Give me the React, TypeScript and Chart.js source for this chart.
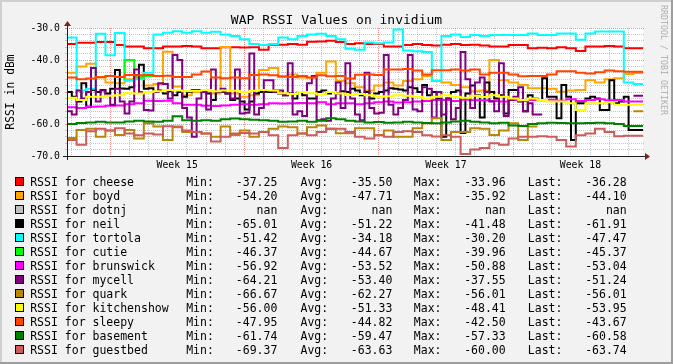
import React, { useEffect, useRef } from "react";
import { Chart, registerables } from "chart.js";

Chart.register(...registerables);

const FONT = "'DejaVu Sans Mono', monospace";

// ---- time axis (days since the left edge of the graph) ----
const halfDays = Array.from({ length: 61 }, (_, i) => i / 2);
const quarterDays = Array.from({ length: 121 }, (_, i) => i / 4);

const dayLines = Array.from({ length: 30 }, (_, k) => 0.24 + k);
const weekStarts = [2.24, 9.24, 16.24, 23.24];
const weekMids = [5.74, 12.74, 19.74, 26.74];
const weekLabels = ["Week 15", "Week 16", "Week 17", "Week 18"];

// ---- series (dBm) ----
const cheese = [
  -35.0, -35.0, -34.6, -34.6, -34.4, -34.4, -35.3, -35.8, -35.8, -36.3,
  -36.3, -35.8, -35.8, -35.6, -35.8, -36.3, -36.3, -36.0, -36.0, -36.1,
  -36.0, -36.8, -35.2, -35.2, -35.0, -35.2, -34.3, -34.2, -34.0, -34.4,
  -35.0, -34.8, -35.0, -35.0, -35.8, -35.8, -35.3, -35.0, -35.3, -35.5,
  -35.2, -35.0, -35.3, -35.2, -35.5, -35.8, -35.8, -35.3, -35.3, -36.3,
  -36.2, -36.3, -36.0, -36.3, -37.2, -35.8, -35.8, -35.6, -35.8, -36.3,
  -36.3,
];
const boyd = [
  -42.5, -44.0, -42.0, -41.2, -45.5, -47.0, -47.3, -46.0, -45.2, -48.0,
  -47.5, -37.4, -48.3, -51.0, -50.0, -49.5, -50.5, -35.9, -50.5, -51.5,
  -51.0, -43.1, -42.5, -45.0, -44.5, -45.5, -45.5, -44.0, -40.5, -46.6,
  -47.3, -48.5, -49.5, -48.0, -47.0, -48.0, -46.6, -46.0, -45.0, -46.6,
  -47.0, -47.8, -48.5, -49.8, -49.5, -40.0, -46.3, -47.0, -47.8, -48.8,
  -48.8, -49.0, -49.9, -49.5, -49.4, -46.3, -47.0, -46.0, -45.7, -44.4,
  -44.1,
];
const dotnj: (number | null)[] = [];
const neil = [
  -52.4, -50, -51.5, -53, -47.3, -54.6, -49.4, -50, -49.4, -50.5,
  -49, -43.1, -48.9, -49, -48.5, -44.7, -41.5, -49, -48.8, -50,
  -49.5, -50.5, -49.8, -51, -50, -51.5, -50, -49.4, -49.4, -50,
  -50.5, -52.5, -50, -49.9, -50.5, -52.5, -52, -53, -55.5, -53,
  -50.5, -50, -49.9, -50, -49.5, -50.5, -51, -50.5, -52, -50,
  -51, -52, -52, -50, -49.5, -50.5, -50, -50.5, -49.8, -50,
  -49, -49.5, -51, -50, -52, -50.5, -50, -49.5, -48.8, -49,
  -49.2, -49.5, -48.5, -48.8, -50, -47.8, -51, -50, -52, -64,
  -52, -50, -49.5, -62.8, -50.5, -48, -51, -58, -47, -50,
  -52, -51, -56.7, -49.4, -49.4, -53, -56, -51, -52, -52.5,
  -45.7, -51.5, -51.5, -58.2, -47.8, -51.5, -65, -53.5, -53.5, -52,
  -51.5, -52, -55.6, -55.6, -46.3, -53.5, -53, -51.5, -61.9, -61.9,
  -61.9,
];
const tortola = [
  -33.5, -33.0, -49.5, -49.0, -31.8, -38.5, -31.6, -46.5, -46.0, -44.0,
  -32.0, -31.5, -31.0, -31.5, -31.0, -31.5, -31.2, -32.0, -32.5, -33.5,
  -35.0, -35.3, -35.0, -33.0, -33.5, -32.5, -32.0, -31.8, -32.5, -33.5,
  -36.5, -36.8, -34.5, -34.8, -34.5, -30.5, -37.0, -37.3, -37.5, -46.5,
  -32.5, -32.0, -32.8, -32.2, -32.5, -32.2, -32.2, -32.2, -32.2, -31.7,
  -32.2, -32.2, -31.7, -31.7, -33.7, -31.7, -31.1, -31.1, -31.1, -47.0,
  -47.5,
];
const cutie = [
  null, null, null, null, null, null, -46.0, -40.0, -45.5, -45.0,
  -45.0, null, null, null, null, null, null, null, null, null,
  null, null, null, null, null, null, null, null, null, null,
  null, null, null, null, null, null, null, null, null, null,
  null, null, null, null, null, null, null, null, null, null,
  null, null, null, null, null, null, null, null, null, null,
  null,
];
const brunswick = [
  -55.5, -54.8, -55.0, -54.6, -54.5, -54.3, -54.2, -53.8, -53.5, -52.7,
  -52.8, -52.7, -53.5, -54.0, -54.0, -54.3, -54.4, -54.2, -54.0, -53.8,
  -54.0, -53.8, -53.5, -53.6, -53.5, -53.4, -53.5, -53.2, -53.8, -53.5,
  -53.5, -53.8, -53.5, -53.2, -53.0, -53.3, -53.2, -53.0, -52.8, -52.5,
  -52.5, -52.8, -52.4, -52.6, -52.6, -52.8, -53.0, -52.5, -52.8, -52.5,
  -52.6, -52.4, -52.7, -52.3, -52.8, -52.5, -52.3, -52.6, -52.5, -53.0,
  -53.0,
];
const mycell = [
  -43, -56, -57, -49.5, -52, -50, -42.5, -53, -49.5, -51,
  -54, -49, -53, -56.7, -53, -43, -50, -55.6, -55.8, -50,
  -47.3, -47.5, -52, -38.4, -40, -55, -58, -64, -52, -50,
  -55.5, -43, -50, -49, -50.5, -52, -43, -56.7, -56.5, -38,
  -57, -55, -46.3, -46.3, -50, -49.5, -51, -41, -57, -56,
  -57.5, -47.3, -45, -58.8, -58.5, -59, -52, -47, -55, -41,
  -52, -57, -58.8, -44, -55, -56.7, -56.5, -38.4, -54, -57,
  -55, -52.5, -38.4, -55.5, -56, -48.5, -49, -58, -50, -57,
  -52, -58.5, -55, -37.5, -46, -55, -47, -45.5, -50, -53,
  -56, -41, -57.5, -52.5, -51.5, -48.5, -56, -53.5, -57, -57,
  null, null, null, null, null, null, null, null, null, null,
  null, null, null, null, null, null, null, null, -51.2, -51.2,
  -51.2,
];
const quark = [
  -62.8, -64.4, -61.9, -61.5, -64.0, -62.0, -63.4, -61.9, -64.5, -59.8,
  -60.8, -65.0, -60.8, -62.5, -62.5, -63.0, -64.0, -60.8, -63.4, -62.0,
  -64.0, -62.5, -61.5, -60.8, -61.0, -63.0, -61.0, -60.5, -61.5, -62.9,
  -62.9, -61.3, -61.3, -63.4, -62.0, -64.0, -64.0, -61.3, -59.8, -58.2,
  -65.0, -62.5, -62.5, -61.3, -61.5, -63.4, -62.0, -59.8, -65.0, -60.8,
  null, null, null, null, null, null, null, null, null, -56.0,
  -56.0,
];
const kitchenshow = [
  -51.0, -51.8, -52.5, -51.5, -51.5, -51.2, -51.0, -50.4, -50.5, -50.0,
  -49.8, -49.4, -49.5, -49.8, -49.6, -49.4, -49.8, -49.5, -49.6, -50.0,
  -49.6, -49.4, -49.5, -50.4, -50.6, -50.0, -50.4, -50.8, -50.0, -50.5,
  -50.9, -50.6, -51.0, -51.5, -51.3, -51.0, -51.2, -51.5, -52.0, -51.5,
  -51.0, -51.5, -51.8, -51.2, -51.6, -51.0, -51.5, -52.0, -52.5, -52.0,
  -52.5, -53.0, -53.0, -53.5, -55.6, -53.5, -53.5, -53.2, -54.0, -54.0,
  -54.0,
];
const sleepy = [
  -45.0, -45.5, -46.0, -45.8, -45.3, -45.0, -45.3, -44.7, -44.8, -44.7,
  -45.0, -44.9, -45.3, -45.3, -44.5, -43.6, -45.5, -45.7, -45.5, -45.7,
  -44.7, -44.5, -44.8, -45.2, -45.3, -45.0, -45.5, -44.8, -45.1, -45.0,
  -45.8, -44.6, -44.5, -44.7, -43.0, -43.0, -42.8, -43.3, -44.5, -43.2,
  -43.2, -43.0, -43.3, -43.0, -44.5, -44.0, -44.0, -44.5, -45.1, -45.0,
  -45.0, -44.5, -43.5, -43.5, -44.0, -44.2, -43.8, -43.3, -43.5, -43.7,
  -43.7,
];
const basement = [
  -60.0, -60.0, -59.7, -59.5, -59.3, -59.5, -59.5, -59.2, -59.0, -59.2,
  -59.3, -59.0, -57.6, -58.8, -59.0, -58.8, -59.0, -58.5, -58.3, -58.5,
  -58.7, -58.8, -59.0, -59.3, -59.2, -59.0, -59.3, -59.0, -58.2, -58.5,
  -59.0, -59.2, -59.5, -59.4, -59.6, -59.5, -59.3, -59.5, -59.7, -59.8,
  -59.5, -59.2, -59.0, -59.3, -59.5, -59.8, -59.6, -60.5, -60.6, -60.0,
  -59.8, -59.6, -59.7, -59.8, -59.8, -59.7, -59.6, -59.8, -60.0, -60.6,
  -60.6,
];
const guestbed = [
  -62.0, -65.0, -66.5, -62.3, -61.5, -62.0, -61.3, -63.0, -63.5, -63.0,
  -63.3, -60.7, -61.0, -62.0, -62.5, -63.0, -65.5, -64.0, -63.0, -62.8,
  -63.0, -62.5, -63.5, -67.5, -63.5, -63.0, -63.5, -62.5, -61.5, -61.5,
  -62.5, -64.0, -64.5, -63.5, -64.0, -62.5, -62.3, -62.5, -63.5, -63.9,
  -63.5, -64.0, -69.4, -68.0, -67.5, -66.0, -66.5, -64.5, -64.0, -64.0,
  -63.8, -64.0, -65.0, -67.0, -63.5, -63.0, -61.5, -62.5, -63.8, -63.7,
  -63.7,
];

// ---- legend table ----
const hosts = ["cheese", "boyd", "dotnj", "neil", "tortola", "cutie", "brunswick", "mycell", "quark", "kitchenshow", "sleepy", "basement", "guestbed"];
const colors = ["#FF0000", "#FFA500", "#C0C0C0", "#000000", "#00FFFF", "#00FF00", "#FF00FF", "#800080", "#B8860B", "#FFFF00", "#FF4500", "#008000", "#CD5C5C"];
const minVals = [-37.25, -54.2, NaN, -65.01, -51.42, -46.37, -56.92, -64.21, -66.67, -56.0, -47.95, -61.74, -69.37];
const avgVals = [-35.5, -47.71, NaN, -51.22, -34.18, -44.67, -53.52, -53.4, -62.27, -51.33, -44.82, -59.47, -63.63];
const maxVals = [-33.96, -35.92, NaN, -41.48, -30.2, -39.96, -50.88, -37.55, -56.01, -48.41, -42.5, -57.33, -60.0];
const lastVals = [-36.28, -44.1, NaN, -61.91, -47.47, -45.37, -53.04, -51.24, -56.01, -53.95, -43.67, -60.58, -63.74];

const seriesValues = [cheese, boyd, dotnj, neil, tortola, cutie, brunswick, mycell, quark, kitchenshow, sleepy, basement, guestbed];
const seriesTimes = [halfDays, halfDays, halfDays, quarterDays, halfDays, halfDays, halfDays, quarterDays, halfDays, halfDays, halfDays, halfDays, halfDays];

const GRID = "rgba(143,143,143,0.5)";
const MGRID = "rgba(222,79,79,0.6)";

const near = (arr: number[], v: number) => arr.some((m) => Math.abs(m - v) < 1e-6);
const fmt = (v: number) => (isNaN(v) ? "nan" : v.toFixed(2));

const rrdPlugin = {
  id: "rrdFrame",
  beforeDraw(chart: any) {
    const { ctx, width, height, chartArea: a } = chart;
    ctx.save();
    ctx.fillStyle = "#F2F2F2";
    ctx.fillRect(0, 0, width, height);
    ctx.fillStyle = "#CFCFCF";
    ctx.fillRect(0, 0, width, 2);
    ctx.fillRect(0, 0, 2, height);
    ctx.fillStyle = "#9E9E9E";
    ctx.fillRect(0, height - 2, width, 2);
    ctx.fillRect(width - 2, 0, 2, height);
    ctx.fillStyle = "#FFFFFF";
    ctx.fillRect(a.left, a.top, a.right - a.left, a.bottom - a.top);
    ctx.restore();
  },
  afterDraw(chart: any) {
    const { ctx, chartArea: a, scales } = chart;
    const x0 = Math.round(a.left);
    const x1 = Math.round(a.right);
    const y0 = Math.round(a.bottom);
    const y1 = Math.round(a.top);
    ctx.save();
    ctx.lineWidth = 1;
    ctx.setLineDash([1, 1]);
    for (let v = -70; v <= -30; v += 2) {
      const y = Math.round(scales.y.getPixelForValue(v) - 0.5) + 0.5;
      ctx.strokeStyle = v % 10 === 0 ? MGRID : GRID;
      ctx.beginPath();
      ctx.moveTo(x1, y);
      ctx.lineTo(x1 + 2, y);
      ctx.stroke();
    }
    ctx.setLineDash([]);
    ctx.strokeStyle = "#1F1F1F";
    ctx.beginPath();
    ctx.moveTo(x0 - 4, y0 + 0.5);
    ctx.lineTo(x1 + 4, y0 + 0.5);
    ctx.moveTo(x0 + 0.5, y0 + 4);
    ctx.lineTo(x0 + 0.5, y1 - 4);
    ctx.stroke();
    ctx.fillStyle = "#801F1F";
    ctx.beginPath();
    ctx.moveTo(x1 + 2, y0 - 3);
    ctx.lineTo(x1 + 2, y0 + 4);
    ctx.lineTo(x1 + 7, y0 + 0.5);
    ctx.closePath();
    ctx.fill();
    ctx.beginPath();
    ctx.moveTo(x0 - 3, y1 - 2);
    ctx.lineTo(x0 + 4, y1 - 2);
    ctx.lineTo(x0 + 0.5, y1 - 7);
    ctx.closePath();
    ctx.fill();
    ctx.restore();
  },
};

export default function App() {
  const ref = useRef<HTMLCanvasElement>(null);

  useEffect(() => {
    const datasets = hosts.map((h, i) => ({
      label: h,
      data: seriesValues[i].map((v, k) => ({ x: seriesTimes[i][k], y: v })),
      borderColor: colors[i],
      backgroundColor: colors[i],
      borderWidth: 2,
      pointRadius: 0,
      stepped: "after" as const,
      fill: false,
      spanGaps: false,
      order: 100 - i,
      borderJoinStyle: "miter" as const,
    }));

    const chart = new Chart(ref.current as HTMLCanvasElement, {
      type: "line",
      data: { datasets },
      plugins: [rrdPlugin],
      options: {
        responsive: false,
        devicePixelRatio: 1,
        animation: false,
        events: [],
        layout: { padding: { left: 0, top: 28, right: 30, bottom: 188 } },
        plugins: { legend: { display: false }, tooltip: { enabled: false }, title: { display: false } },
        scales: {
          x: {
            type: "linear",
            min: 0,
            max: 30,
            afterBuildTicks: (scale: any) => {
              const vals = [...dayLines, ...weekMids].sort((p, q) => p - q);
              scale.ticks = vals.map((v) => ({ value: v }));
            },
            afterFit: (scale: any) => {
              scale.height = 20;
            },
            ticks: {
              autoSkip: false,
              maxRotation: 0,
              padding: 4,
              color: "#000",
              font: { family: FONT, size: 9.8 },
              callback: (v: any) => {
                const idx = weekMids.findIndex((m) => Math.abs(m - Number(v)) < 1e-6);
                return idx >= 0 ? weekLabels[idx] : "";
              },
            },
            grid: {
              drawTicks: false,
              lineWidth: 1,
              color: (c: any) => {
                const v = c.tick ? c.tick.value : NaN;
                if (near(weekMids, v)) return "rgba(0,0,0,0)";
                if (near(weekStarts, v)) return MGRID;
                return GRID;
              },
            },
            border: { display: false, dash: [1, 1] },
          },
          y: {
            type: "linear",
            min: -70,
            max: -30,
            afterFit: (scale: any) => {
              scale.width = 67;
            },
            ticks: {
              stepSize: 2,
              autoSkip: false,
              padding: 5,
              color: "#000",
              font: { family: FONT, size: 9.8 },
              callback: (v: any) => (Number(v) % 10 === 0 ? Number(v).toFixed(1) : ""),
            },
            grid: {
              drawTicks: true,
              tickLength: 2,
              lineWidth: 1,
              color: (c: any) => {
                const v = c.tick ? c.tick.value : NaN;
                return v % 10 === 0 ? MGRID : GRID;
              },
            },
            border: { display: false, dash: [1, 1] },
            title: {
              display: true,
              text: "RSSI in dBm",
              color: "#000",
              font: { family: FONT, size: 11.4 },
              padding: { top: 4.5, bottom: 0 },
            },
          },
        },
      },
    } as any);
    return () => chart.destroy();
  }, []);

  const txt: React.CSSProperties = {
    position: "absolute",
    font: `11.5px ${FONT}`,
    lineHeight: "14px",
    whiteSpace: "pre",
    color: "#000",
  };
  const valBox = (right: number, top: number, v: number) => (
    <div style={{ ...txt, left: right - 80, width: 80, textAlign: "right", top }}>{fmt(v)}</div>
  );

  return (
    <div style={{ position: "fixed", left: 0, top: 0, width: 673, height: 364, overflow: "hidden" }}>
      <canvas ref={ref} width={673} height={364} style={{ position: "absolute", left: 0, top: 0, width: 673, height: 364 }} />
      <div
        style={{
          position: "absolute",
          left: 0,
          top: 11.5,
          width: 673,
          textAlign: "center",
          font: `13px ${FONT}`,
          lineHeight: "16px",
          color: "#000",
          whiteSpace: "pre",
        }}
      >
        WAP RSSI Values on invidium
      </div>
      <div
        style={{
          position: "absolute",
          left: 668.5,
          top: 5,
          transform: "rotate(90deg)",
          transformOrigin: "0 0",
          font: `8.3px ${FONT}`,
          lineHeight: "10px",
          color: "rgba(0,0,0,0.3)",
          whiteSpace: "pre",
        }}
      >
        RRDTOOL / TOBI OETIKER
      </div>
      {hosts.map((h, i) => {
        const top = 174.7 + 14 * i;
        return (
          <React.Fragment key={h}>
            <div
              style={{
                position: "absolute",
                left: 15,
                top: top + 2.6,
                width: 9,
                height: 9,
                boxSizing: "border-box",
                background: colors[i],
                border: "1px solid #000",
              }}
            />
            <div style={{ ...txt, left: 30.2, top }}>{"RSSI for " + h}</div>
            <div style={{ ...txt, left: 186.2, top }}>Min:</div>
            {valBox(277.4, top, minVals[i])}
            <div style={{ ...txt, left: 300.5, top }}>Avg:</div>
            {valBox(392.4, top, avgVals[i])}
            <div style={{ ...txt, left: 413.8, top }}>Max:</div>
            {valBox(505.7, top, maxVals[i])}
            <div style={{ ...txt, left: 527.8, top }}>Last:</div>
            {valBox(626.7, top, lastVals[i])}
          </React.Fragment>
        );
      })}
    </div>
  );
}
